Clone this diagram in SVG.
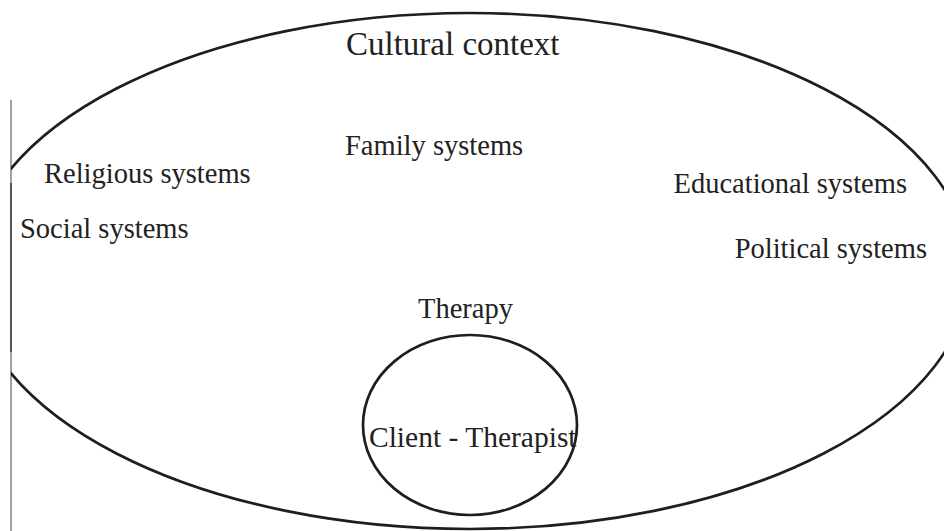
<svg xmlns="http://www.w3.org/2000/svg" width="944" height="531" viewBox="0 0 944 531">
  <defs>
    <style>
      .outline { fill: none; stroke: #1e1e1e; stroke-width: 2.7; }
      .label { font-family: "Liberation Serif", "Times New Roman", serif; fill: #222; font-size: 28.5px; }
      .title { font-size: 33px; }
      .inner { font-size: 29.5px; }
      .edge { stroke: #8a8a8a; stroke-width: 1.6; fill: none; }
    </style>
    <clipPath id="scan">
      <rect x="11" y="0" width="940" height="531"/>
    </clipPath>
  </defs>
  <rect x="0" y="0" width="944" height="531" fill="#ffffff"/>
  <line class="edge" x1="11" y1="100" x2="11" y2="531"/>
  <line x1="11" y1="183" x2="11" y2="352" stroke="#555" stroke-width="2"/>

  <g id="cultural-context">
    <ellipse class="outline" cx="470" cy="271" rx="500" ry="258" clip-path="url(#scan)"/>
    <text class="label title" x="346" y="55">Cultural context</text>
  </g>

  <g id="family-systems">
    <text class="label" x="345" y="155">Family systems</text>
  </g>
  <g id="religious-systems">
    <text class="label" x="44" y="183">Religious systems</text>
  </g>
  <g id="social-systems">
    <text class="label" x="20" y="238">Social systems</text>
  </g>
  <g id="educational-systems">
    <text class="label" x="907" y="193" text-anchor="end">Educational systems</text>
  </g>
  <g id="political-systems">
    <text class="label" x="927" y="258" text-anchor="end">Political systems</text>
  </g>

  <g id="therapy">
    <text class="label" x="418" y="318">Therapy</text>
  </g>

  <g id="client-therapist">
    <text class="label inner" x="369" y="447">Client - Therapist</text>
    <ellipse class="outline" cx="470" cy="425" rx="107" ry="90"/>
  </g>

  <g id="connectors"></g>
</svg>
